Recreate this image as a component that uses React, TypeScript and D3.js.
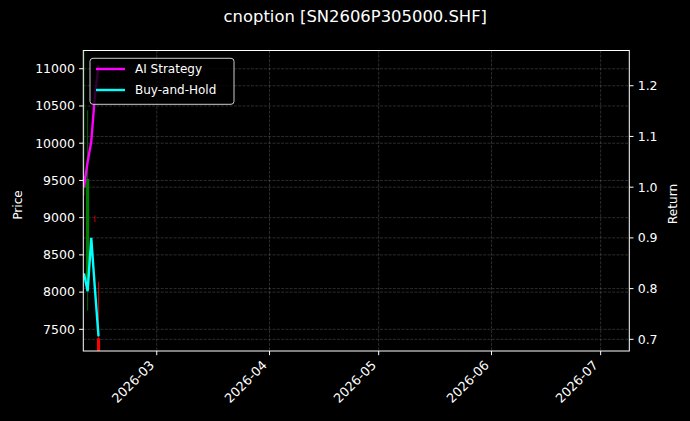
import { line, scaleLinear, scaleUtc, utcFormat, utcMonth } from "d3";
import type { ReactElement } from "react";

// ---- data ----
const candleDates = ["2026-02-09", "2026-02-10", "2026-02-12", "2026-02-13"];
const candleOpen = [9400, 8070, 8960, 7380];
const candleHigh = [11500, 10440, 9030, 8140];
const candleLow = [9300, 7750, 8940, 6900];
const candleClose = [9560, 9520, 8960, 7000];

const curveDates = ["2026-02-09", "2026-02-10", "2026-02-11", "2026-02-12", "2026-02-13"];
const aiStrategy = [1.0, 1.05, 1.09, 1.18, 1.24];
const buyAndHold = [0.83, 0.795, 0.9, 0.8, 0.706];

const priceTicks = [7500, 8000, 8500, 9000, 9500, 10000, 10500, 11000];
const returnTicks = [0.7, 0.8, 0.9, 1.0, 1.1, 1.2];

const TITLE = "cnoption [SN2606P305000.SHF]";

// ---- layout ----
const W = 690;
const H = 421;
const LEFT = 83.3;
const RIGHT = 629.3;
const TOP = 50.5;
const BOTTOM = 351;
const TICK = 4.2;
const TICK_FS = 12.5;
const FONT = "DejaVu Sans, sans-serif";

const parseDay = (s: string): Date => new Date(`${s}T00:00:00Z`);

const xScale = scaleUtc()
  .domain([new Date(Date.UTC(2026, 1, 8, 19, 30)), new Date(Date.UTC(2026, 6, 8, 21, 0))])
  .range([LEFT, RIGHT]);
const priceScale = scaleLinear().domain([7209, 11245]).range([BOTTOM, TOP]);
const returnScale = scaleLinear().domain([0.677, 1.2695]).range([BOTTOM, TOP]);

const monthTicks = xScale.ticks(utcMonth.every(1)!);
const fmtMonth = utcFormat("%Y-%m");

const DAY_PX = xScale(new Date(Date.UTC(2026, 2, 2))) - xScale(new Date(Date.UTC(2026, 2, 1)));
const BODY_W = DAY_PX * 0.85;

type Pt = { d: Date; v: number };

const toPts = (vals: ReadonlyArray<number>): Array<Pt> =>
  vals.map((v, i) => ({ d: parseDay(curveDates[i]), v }));

const retLine = line<Pt>()
  .x((p) => xScale(p.d))
  .y((p) => returnScale(p.v));

export default function App(): ReactElement {
  const candles = candleDates.map((d, i) => ({
    x: xScale(parseDay(d)),
    o: candleOpen[i],
    h: candleHigh[i],
    l: candleLow[i],
    c: candleClose[i],
  }));

  return (
    <svg
      width={W}
      height={H}
      viewBox={`0 0 ${W} ${H}`}
      style={{ position: "fixed", left: 0, top: 0, background: "#000" }}
      fontFamily={FONT}
    >
      <rect x={0} y={0} width={W} height={H} fill="#000" />

      <defs>
        <clipPath id="plot-clip">
          <rect x={LEFT} y={TOP} width={RIGHT - LEFT} height={BOTTOM - TOP} />
        </clipPath>
      </defs>

      {/* grid: both y axes draw their own */}
      <g stroke="#fff" strokeOpacity={0.22} strokeWidth={0.8} strokeDasharray="3,1.3">
        {monthTicks.map((t) => (
          <line key={`gx-${t.toISOString()}`} x1={xScale(t)} x2={xScale(t)} y1={TOP} y2={BOTTOM} />
        ))}
        {priceTicks.map((t) => (
          <line key={`gp-${t}`} x1={LEFT} x2={RIGHT} y1={priceScale(t)} y2={priceScale(t)} />
        ))}
        {returnTicks.map((t) => (
          <line key={`gr-${t}`} x1={LEFT} x2={RIGHT} y1={returnScale(t)} y2={returnScale(t)} />
        ))}
      </g>

      <g clipPath="url(#plot-clip)">
        {/* candles */}
        {candles.map((k, i) => {
          const color = k.c > k.o ? "#008000" : "#ff0000";
          const top = priceScale(Math.max(k.o, k.c));
          const bot = priceScale(Math.min(k.o, k.c));
          return (
            <g key={`c-${i}`}>
              <line x1={k.x} x2={k.x} y1={priceScale(k.h)} y2={priceScale(k.l)} stroke={color} strokeWidth={0.8} />
              {bot - top > 0 && (
                <rect x={k.x - BODY_W / 2} y={top} width={BODY_W} height={bot - top} fill={color} />
              )}
            </g>
          );
        })}

        {/* equity curves */}
        <path d={retLine(toPts(aiStrategy)) ?? ""} fill="none" stroke="#ff00ff" strokeWidth={2.4} />
        <path d={retLine(toPts(buyAndHold)) ?? ""} fill="none" stroke="#00ffff" strokeWidth={2.4} />
      </g>

      {/* spines */}
      <rect x={LEFT} y={TOP} width={RIGHT - LEFT} height={BOTTOM - TOP} fill="none" stroke="#fff" strokeWidth={1} />

      {/* left axis */}
      {priceTicks.map((t) => (
        <g key={`lp-${t}`}>
          <line x1={LEFT - TICK} x2={LEFT} y1={priceScale(t)} y2={priceScale(t)} stroke="#fff" strokeWidth={1} />
          <text x={LEFT - TICK - 4.2} y={priceScale(t)} dy="0.35em" textAnchor="end" fill="#fff" fontSize={TICK_FS}>
            {t}
          </text>
        </g>
      ))}

      {/* right axis */}
      {returnTicks.map((t) => (
        <g key={`rr-${t}`}>
          <line x1={RIGHT} x2={RIGHT + TICK} y1={returnScale(t)} y2={returnScale(t)} stroke="#fff" strokeWidth={1} />
          <text x={RIGHT + TICK + 4.2} y={returnScale(t)} dy="0.35em" textAnchor="start" fill="#fff" fontSize={TICK_FS}>
            {t.toFixed(1)}
          </text>
        </g>
      ))}

      {/* bottom axis */}
      {monthTicks.map((t) => {
        const x = xScale(t);
        return (
          <g key={`bx-${t.toISOString()}`}>
            <line x1={x} x2={x} y1={BOTTOM} y2={BOTTOM + TICK} stroke="#fff" strokeWidth={1} />
            <text
              transform={`translate(${x - 1.8},${BOTTOM + TICK + 4.2 + 6.6}) rotate(-45)`}
              textAnchor="end"
              fill="#fff"
              fontSize={TICK_FS + 0.3}
            >
              {fmtMonth(t)}
            </text>
          </g>
        );
      })}

      {/* axis labels */}
      <text transform="translate(21.5,205) rotate(-90)" textAnchor="middle" fill="#fff" fontSize={12.2}>
        Price
      </text>
      <text transform="translate(677,204) rotate(-90)" textAnchor="middle" fill="#fff" fontSize={12.2}>
        Return
      </text>

      {/* title */}
      <text x={(LEFT + RIGHT) / 2 - 1} y={22} textAnchor="middle" fill="#fff" fontSize={16.4}>
        {TITLE}
      </text>

      {/* legend */}
      <g>
        <rect x={90} y={58.3} width={144} height={46} rx={3} fill="#000" fillOpacity={0.8} stroke="#cccccc" strokeWidth={1} />
        {[
          { label: "AI Strategy", color: "#ff00ff" },
          { label: "Buy-and-Hold", color: "#00ffff" },
        ].map((item, i) => {
          const y = 69 + i * 21;
          return (
            <g key={item.label}>
              <line x1={96} x2={125} y1={y} y2={y} stroke={item.color} strokeWidth={2.4} />
              <text x={135} y={y} dy="0.35em" fill="#fff" fontSize={12}>
                {item.label}
              </text>
            </g>
          );
        })}
      </g>
    </svg>
  );
}
